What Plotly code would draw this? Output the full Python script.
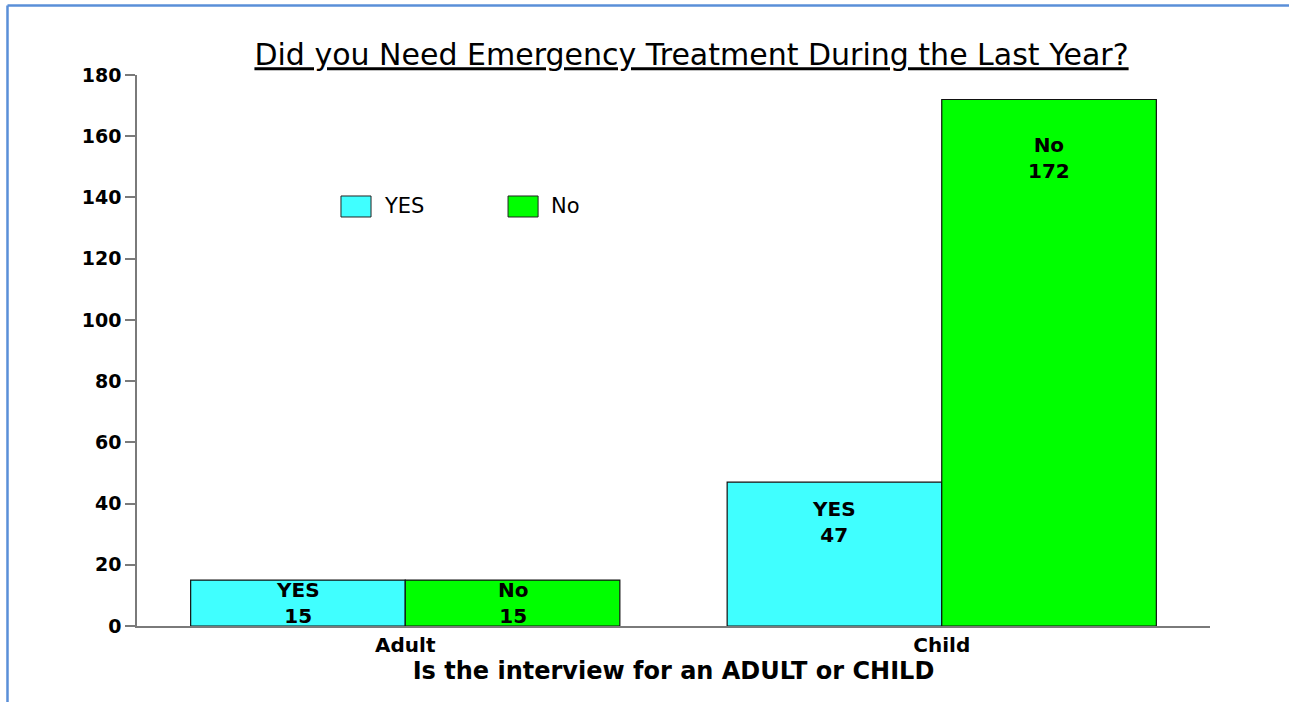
import plotly.graph_objects as go

# Survey answers per interview type
categories = ["Adult", "Child"]
yes_counts = [15, 47]
no_counts = [15, 172]
series_names = ["YES", "No"]
y_ticks = [0, 20, 40, 60, 80, 100, 120, 140, 160, 180]

# Vertical centre of each in-bar label block (data units)
yes_label_y = [7.5, 34]
no_label_y = [7.5, 153]

CYAN = "#40FFFF"
GREEN = "#00FF00"
AXIS_GREY = "#7a7a7a"
FONT = "DejaVu Sans"

fig = go.Figure()
for name, vals, color in [(series_names[0], yes_counts, CYAN),
                          (series_names[1], no_counts, GREEN)]:
    fig.add_trace(go.Bar(
        name=name, x=categories, y=vals,
        marker=dict(color=color, line=dict(color="#111111", width=1.2)),
        showlegend=False, hoverinfo="x+y+name",
    ))

# Two-line value labels inside the bars
for i, cat in enumerate(categories):
    for name, vals, ys, dx in [(series_names[0], yes_counts, yes_label_y, -0.2),
                               (series_names[1], no_counts, no_label_y, 0.2)]:
        fig.add_annotation(
            x=i + dx, y=ys[i], xref="x", yref="y",
            text=f"<b>{name}</b><br><b>{vals[i]}</b>",
            showarrow=False, yanchor="middle",
            font=dict(family=FONT, size=20, color="black"),
        )

# Hand-drawn legend with wide swatches
legend_items = [(series_names[0], CYAN, 0.1901), (series_names[1], GREEN, 0.3458)]
for name, color, x0 in legend_items:
    fig.add_shape(type="rect", xref="paper", yref="paper",
                  x0=x0, x1=x0 + 0.028, y0=0.7423, y1=0.7804,
                  fillcolor=color, line=dict(color="#222222", width=1))
    fig.add_annotation(x=x0 + 0.038, y=0.7614, xref="paper", yref="paper",
                       text=name, showarrow=False, xanchor="left", yanchor="middle",
                       font=dict(family=FONT, size=21, color="black"))

# Blue frame along the top and left edges
fig.add_shape(type="line", xref="paper", yref="paper",
              x0=-0.1207, x1=1.08, y0=1.1261, y1=1.1261,
              line=dict(color="#5A8FD8", width=2.5))
fig.add_shape(type="line", xref="paper", yref="paper",
              x0=-0.1207, x1=-0.1207, y0=1.1261, y1=-0.14,
              line=dict(color="#5A8FD8", width=2.5))

fig.update_layout(
    width=1289, height=702,
    margin=dict(l=137, r=79, t=75, b=76),
    paper_bgcolor="white", plot_bgcolor="white",
    barmode="group", bargap=0.2, bargroupgap=0,
    title=dict(
        text="<u>Did you Need Emergency Treatment During the Last Year?</u>",
        x=0.5168, xanchor="center", xref="paper",
        y=0.922, yanchor="middle",
        font=dict(family=FONT, size=30, color="black"),
    ),
    font=dict(family=FONT, color="black"),
)

fig.update_xaxes(
    showline=True, linecolor=AXIS_GREY, linewidth=2,
    ticks="", showgrid=False, zeroline=False,
    tickfont=dict(family=FONT, size=20, color="black", weight="bold"),
    title=dict(text="<b>Is the interview for an ADULT or CHILD</b>",
               font=dict(family=FONT, size=24, color="black"), standoff=4),
)
fig.update_yaxes(
    range=[0, 180], tickvals=y_ticks,
    showline=True, linecolor=AXIS_GREY, linewidth=1.5,
    ticks="outside", ticklen=10, tickcolor=AXIS_GREY, tickwidth=1.5,
    showgrid=False, zeroline=False,
    tickfont=dict(family=FONT, size=19, color="black", weight="bold"),
)

fig.write_html("out.html")
